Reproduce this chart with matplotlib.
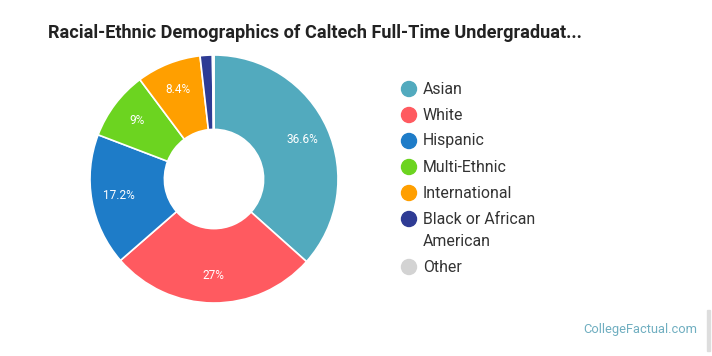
import matplotlib
matplotlib.use("Agg")
import matplotlib.pyplot as plt
import numpy as np

title = "Racial-Ethnic Demographics of Caltech Full-Time Undergraduat..."
categories = ["Asian", "White", "Hispanic", "Multi-Ethnic", "International",
              "Black or African\nAmerican", "Other"]
values = [36.6, 27.0, 17.2, 9.0, 8.4, 1.6, 0.2]
labels = ["36.6%", "27%", "17.2%", "9%", "8.4%", "", ""]
colors = ["#52AABE", "#FF5A60", "#1E7CC8", "#6CD420", "#FF9F00", "#2E3B94", "#D3D3D3"]

W, H = 712, 356
fig = plt.figure(figsize=(W / 100, H / 100), dpi=100)
plt.rcParams['font.family'] = ['Roboto', 'DejaVu Sans']

cx, cy, r = 214, 179, 124
ax = fig.add_axes([(cx - r) / W, (H - cy - r) / H, 2 * r / W, 2 * r / H])
wedges, _ = ax.pie(values, colors=colors, startangle=90, counterclock=False,
                   radius=1.0, wedgeprops=dict(width=0.6, edgecolor="white", linewidth=1.2))
ax.set_xlim(-1, 1)
ax.set_ylim(-1, 1)
ax.set_aspect("equal")
ax.axis("off")

for w, lab in zip(wedges, labels):
    if not lab:
        continue
    ang = np.deg2rad((w.theta1 + w.theta2) / 2)
    d = 0.78
    ax.text(d * np.cos(ang), d * np.sin(ang), lab, ha="center", va="center",
            color="white", fontsize=8.5)

fig.text(48 / W, 1 - 33 / H, title, fontsize=13.1, fontweight="bold",
         color="#222222", ha="left", va="center")

# legend
y = 89
for cat, col in zip(categories, colors):
    fig.patches.append(matplotlib.patches.Ellipse((409 / W, 1 - y / H), 15 / W, 15 / H,
                                                  transform=fig.transFigure, color=col))
    lines = cat.split("\n")
    for i, ln in enumerate(lines):
        fig.text(423 / W, 1 - (y + i * 22) / H, ln, fontsize=11.4, color="#333333",
                 ha="left", va="center")
    y += 26 + 22 * (len(lines) - 1)

fig.text(697 / W, 1 - 329 / H, "CollegeFactual.com", fontsize=9.3, color="#6FAEC0",
         ha="right", va="center")
fig.patches.append(matplotlib.patches.Rectangle((707 / W, 1 - 351 / H), 3 / W, 41 / H,
                                                transform=fig.transFigure, color="#DDDDDD"))

fig.savefig("out.png", dpi=100)
